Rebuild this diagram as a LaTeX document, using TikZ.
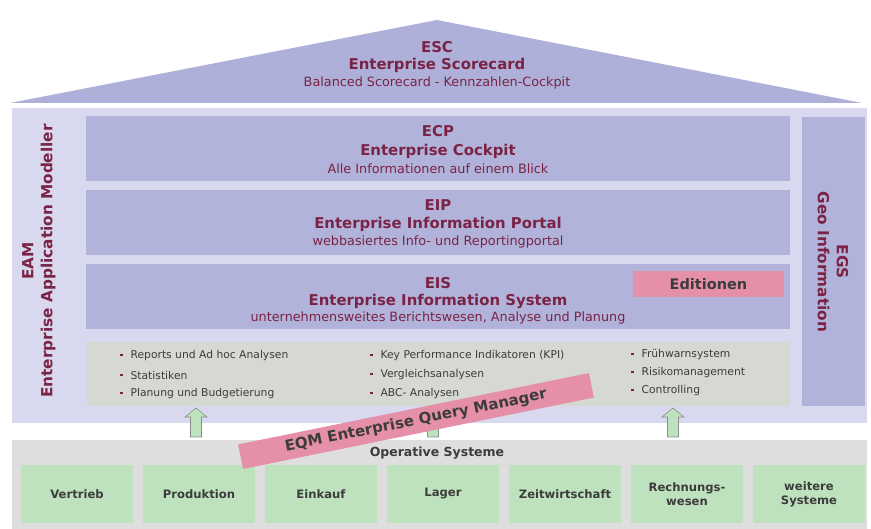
\documentclass[tikz,border=0pt]{standalone}
\usepackage{fontspec}
\setmainfont{DejaVu Sans}
\definecolor{roofc}{HTML}{AEB0D9}
\definecolor{bodyc}{HTML}{D8D8EF}
\definecolor{layerc}{HTML}{B2B3DB}
\definecolor{grayin}{HTML}{D6D8D2}
\definecolor{opc}{HTML}{DEDEDE}
\definecolor{greenc}{HTML}{BFE2BE}
\definecolor{pinkc}{HTML}{E68FA8}
\definecolor{maroonc}{HTML}{7A2345}
\definecolor{txtgray}{HTML}{3C3C3C}
\definecolor{arrowline}{HTML}{8A8F8A}
\newcommand{\bulsq}{\textcolor{maroonc}{\rule[0.25em]{2.4pt}{2.4pt}}\hspace{8pt}}
\tikzset{
  layer/.style={fill=layerc, draw=none, minimum width=704pt, minimum height=65pt, inner sep=0pt},
  ttl/.style={text=maroonc, font=\bfseries\fontsize{14.9}{17}\selectfont, inner sep=0pt},
  sub/.style={text=maroonc, font=\fontsize{12.8}{14}\selectfont, inner sep=0pt},
  item/.style={text=txtgray, font=\fontsize{10.75}{12}\selectfont, anchor=west, inner sep=0pt},
  opbox/.style={fill=greenc, draw=none, minimum width=112pt, minimum height=57pt, inner sep=0pt,
    text=txtgray, font=\bfseries\fontsize{11.6}{14}\selectfont, align=center},
  uparrow/.style={fill=greenc, draw=arrowline, line width=0.6pt},
}
\begin{document}
\begin{tikzpicture}[x=1pt,y=-1pt]
\useasboundingbox (0,0) rectangle (871,529);
\fill[white] (0,0) rectangle (871,529);
% roof
\coordinate (roofL) at (10,103);
\coordinate (roofT) at (437,20);
\coordinate (roofR) at (862,103);
\fill[roofc] (roofL) -- (roofT) -- (roofR) -- cycle;
\node[ttl] (esc1) at (437,47) {ESC};
\node[ttl] (esc2) at (437,65) {Enterprise Scorecard};
\node[sub] (esc3) at (437,83) {Balanced Scorecard - Kennzahlen-Cockpit};
% body
\node[fill=bodyc, minimum width=855pt, minimum height=315pt, inner sep=0pt] (body) at (439.5,265.5) {};
\node[layer] (ecp) at (438,149) {};
\node[layer] (eip) at (438,222.5) {};
\node[layer] (eis) at (438,296.5) {};
\node[ttl] (ecp1) at (438,131) {ECP};
\node[ttl] (ecp2) at (438,151) {Enterprise Cockpit};
\node[sub] (ecp3) at (438,169) {Alle Informationen auf einem Blick};
\node[ttl] (eip1) at (438,205) {EIP};
\node[ttl] (eip2) at (438,224) {Enterprise Information Portal};
\node[sub] (eip3) at (438,242) {webbasiertes Info- und Reportingportal};
\node[ttl] (eis1) at (438,283) {EIS};
\node[ttl] (eis2) at (438,301) {Enterprise Information System};
\node[sub] (eis3) at (438,318) {unternehmensweites Berichtswesen, Analyse und Planung};
\node[fill=pinkc, minimum width=151pt, minimum height=26pt, inner sep=0pt,
  text=txtgray, font=\bfseries\fontsize{14.5}{16}\selectfont] (edit) at (708.5,284) {Editionen};
% EGS column
\node[fill=layerc, minimum width=63pt, minimum height=289pt, inner sep=0pt] (egs) at (833.5,261.5) {};
\node[ttl, rotate=-90, align=center, font=\bfseries\fontsize{15.3}{19}\selectfont] (egst) at (833,262) {EGS\\Geo Information};
% EAM
\node[ttl, rotate=90, align=center, font=\bfseries\fontsize{15.3}{19}\selectfont] (eamt) at (39,261) {EAM\\Enterprise Application Modeller};
% gray inner box
\node[fill=grayin, minimum width=703pt, minimum height=64pt, inner sep=0pt] (feat) at (438.5,374) {};
\node[item] (a1) at (120,356) {\bulsq Reports und Ad hoc Analysen};
\node[item] (a2) at (120,375) {\bulsq Statistiken};
\node[item] (a3) at (120,394) {\bulsq Planung und Budgetierung};
\node[item] (b1) at (370,356) {\bulsq Key Performance Indikatoren (KPI)};
\node[item] (b2) at (370,375) {\bulsq Vergleichsanalysen};
\node[item] (b3) at (370,394) {\bulsq ABC- Analysen};
\node[item] (c1) at (631,355) {\bulsq Frühwarnsystem};
\node[item] (c2) at (631,373) {\bulsq Risikomanagement};
\node[item] (c3) at (631,391) {\bulsq Controlling};
% operative systems
\node[fill=opc, minimum width=855pt, minimum height=90pt, inner sep=0pt] (ops) at (439.5,485) {};
\node[text=txtgray, font=\bfseries\fontsize{12.5}{14}\selectfont, inner sep=0pt] (opst) at (437,453) {Operative Systeme};
\node[opbox] (o1) at (77,494) {Vertrieb};
\node[opbox] (o2) at (199,494) {Produktion};
\node[opbox] (o3) at (321,494) {Einkauf};
\node[opbox] (o4) at (443,494) {Lager};
\node[opbox] (o5) at (565,494) {Zeitwirtschaft};
\node[opbox] (o6) at (687,494) {Rechnungs-\\wesen};
\node[opbox] (o7) at (809,494) {weitere\\Systeme};
% up arrows
\foreach \cx/\nm in {196/ar1, 433/ar2, 673/ar3}{
  \coordinate (\nm) at (\cx,437);
  \draw[uparrow] ([xshift=-5.5pt]\nm) -- ([xshift=-5.5pt,yshift=20pt]\nm) -- ([xshift=-11pt,yshift=20pt]\nm)
     -- ([yshift=29pt]\nm) -- ([xshift=11pt,yshift=20pt]\nm) -- ([xshift=5.5pt,yshift=20pt]\nm)
     -- ([xshift=5.5pt]\nm) -- cycle;
}
% EQM band
\node[fill=pinkc, rotate=11.5, minimum width=358pt, minimum height=25pt, inner sep=0pt,
  text=txtgray, font=\bfseries\fontsize{15}{17}\selectfont] (eqm) at (416,421) {EQM Enterprise Query Manager};
\end{tikzpicture}
\end{document}
